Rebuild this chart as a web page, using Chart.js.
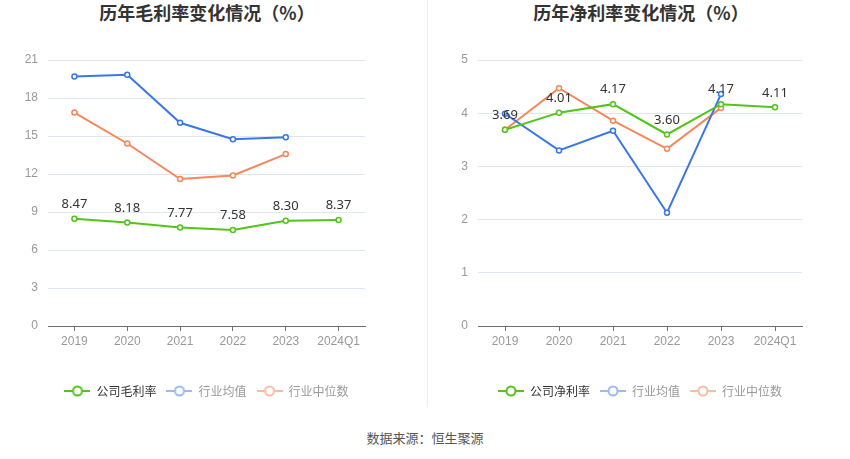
<!DOCTYPE html>
<html>
<head>
<meta charset="utf-8">
<script src="https://cdn.jsdelivr.net/npm/chart.js@4"></script>
<style>
  html, body { margin: 0; padding: 0; background: #fff; }
  body { width: 850px; height: 459px; position: relative; overflow: hidden;
         font-family: "Noto Sans CJK SC", "Noto Sans", sans-serif; }
  .title { position: absolute; top: -1px; font-size: 18px; font-weight: bold; color: #333;
           text-align: center; width: 420px; }
  .box { position: absolute; top: 40px; height: 367px; }
  .divider { position: absolute; left: 427px; top: 0; width: 1px; height: 407px; background: #eee; }
  .source { position: absolute; top: 428px; width: 850px; text-align: center; font-size: 13px; color: #555; }
</style>
</head>
<body>
<div class="title" style="left:-3px">历年毛利率变化情况（%）</div>
<div class="title" style="left:431px">历年净利率变化情况（%）</div>
<div class="divider"></div>
<div class="box" style="left:0;width:425px"><canvas id="grossChart"></canvas></div>
<div class="box" style="left:428px;width:422px"><canvas id="netChart"></canvas></div>
<div class="source">数据来源：恒生聚源</div>

<script>
var years = ["2019", "2020", "2021", "2022", "2023", "2024Q1"];

// 毛利率
var grossCompany = [8.47, 8.18, 7.77, 7.58, 8.30, 8.37];
var grossIndAvg = [19.69, 19.84, 16.04, 14.75, 14.91, null];
var grossIndMid = [16.85, 14.41, 11.60, 11.89, 13.57, null];

// 净利率
var netCompany = [3.69, 4.01, 4.17, 3.60, 4.17, 4.11];
var netIndAvg = [3.99, 3.30, 3.67, 2.13, 4.36, null];
var netIndMid = [3.69, 4.47, 3.86, 3.33, 4.10, null];

var green = "#52c41a", blue = "#3a77e6", orange = "#f5875a";
var legendColors = [green, "#9cbaf2", "#f9bca3"];
var legendText = ["#333", "#999", "#999"];

function legendIcon(color) {
  var c = document.createElement("canvas");
  c.width = 26; c.height = 12;
  var g = c.getContext("2d");
  g.strokeStyle = color; g.lineWidth = 2;
  g.beginPath(); g.moveTo(0, 6); g.lineTo(26, 6); g.stroke();
  g.fillStyle = "#fff";
  g.beginPath(); g.arc(13, 6, 4.5, 0, Math.PI * 2); g.fill(); g.stroke();
  return c;
}

// labels above company line
var valueLabels = {
  id: "valueLabels",
  afterDatasetsDraw: function (chart) {
    var ctx = chart.ctx;
    var meta = chart.getDatasetMeta(0);
    var data = chart.data.datasets[0].data;
    ctx.save();
    ctx.font = "13px 'Noto Sans', 'DejaVu Sans', sans-serif";
    ctx.fillStyle = "#333";
    ctx.textAlign = "center";
    ctx.textBaseline = "bottom";
    meta.data.forEach(function (pt, i) {
      ctx.fillText(data[i].toFixed(2), pt.x, pt.y - 8);
    });
    ctx.restore();
  }
};

function makeChart(id, names, company, avg, mid, yMax, yStep, yWidth, padRight) {
  var sets = [
    { label: names[0], data: company, borderColor: green },
    { label: names[1], data: avg, borderColor: blue },
    { label: names[2], data: mid, borderColor: orange }
  ];
  sets.forEach(function (s) {
    s.backgroundColor = "#fff";
    s.borderWidth = 2;
    s.pointRadius = 2.5;
    s.pointBorderWidth = 1.5;
    s.pointBackgroundColor = "#fff";
    s.pointBorderColor = s.borderColor;
    s.tension = 0;
  });
  return new Chart(document.getElementById(id), {
    type: "line",
    data: { labels: years, datasets: sets },
    plugins: [valueLabels],
    options: {
      responsive: true,
      maintainAspectRatio: false,
      animation: false,
      layout: { padding: { top: 20, right: padRight, left: 0, bottom: 0 } },
      plugins: {
        tooltip: { enabled: false },
        legend: {
          position: "bottom",
          fullSize: false,
          labels: {
            usePointStyle: true,
            pointStyleWidth: 26,
            padding: 10,
            font: { size: 12, family: "'Noto Sans CJK SC', sans-serif" },
            generateLabels: function (chart) {
              return chart.data.datasets.map(function (ds, i) {
                return {
                  text: ds.label,
                  pointStyle: legendIcon(legendColors[i]),
                  fontColor: legendText[i],
                  fillStyle: legendColors[i],
                  strokeStyle: legendColors[i],
                  lineWidth: 0,
                  hidden: false,
                  datasetIndex: i
                };
              });
            }
          }
        }
      },
      scales: {
        x: {
          offset: true,
          grid: { offset: false, drawOnChartArea: false, drawTicks: true, tickLength: 5, color: "#6e7079" },
          border: { color: "#6e7079" },
          ticks: { color: "#999", font: { size: 12 }, padding: 3, autoSkip: false, maxRotation: 0 },
          afterFit: function (s) { s.height = 49; }
        },
        y: {
          min: 0, max: yMax,
          ticks: { stepSize: yStep, color: "#999", font: { size: 12 }, padding: 10 },
          grid: { color: "#e0e6f1", drawTicks: false },
          border: { display: false },
          afterFit: function (s) { s.width = yWidth; }
        }
      }
    }
  });
}

makeChart("grossChart", ["公司毛利率", "行业均值", "行业中位数"],
  grossCompany, grossIndAvg, grossIndMid, 21, 3, 48, 60);
makeChart("netChart", ["公司净利率", "行业均值", "行业中位数"],
  netCompany, netIndAvg, netIndMid, 5, 1, 50, 48);
</script>
</body>
</html>
